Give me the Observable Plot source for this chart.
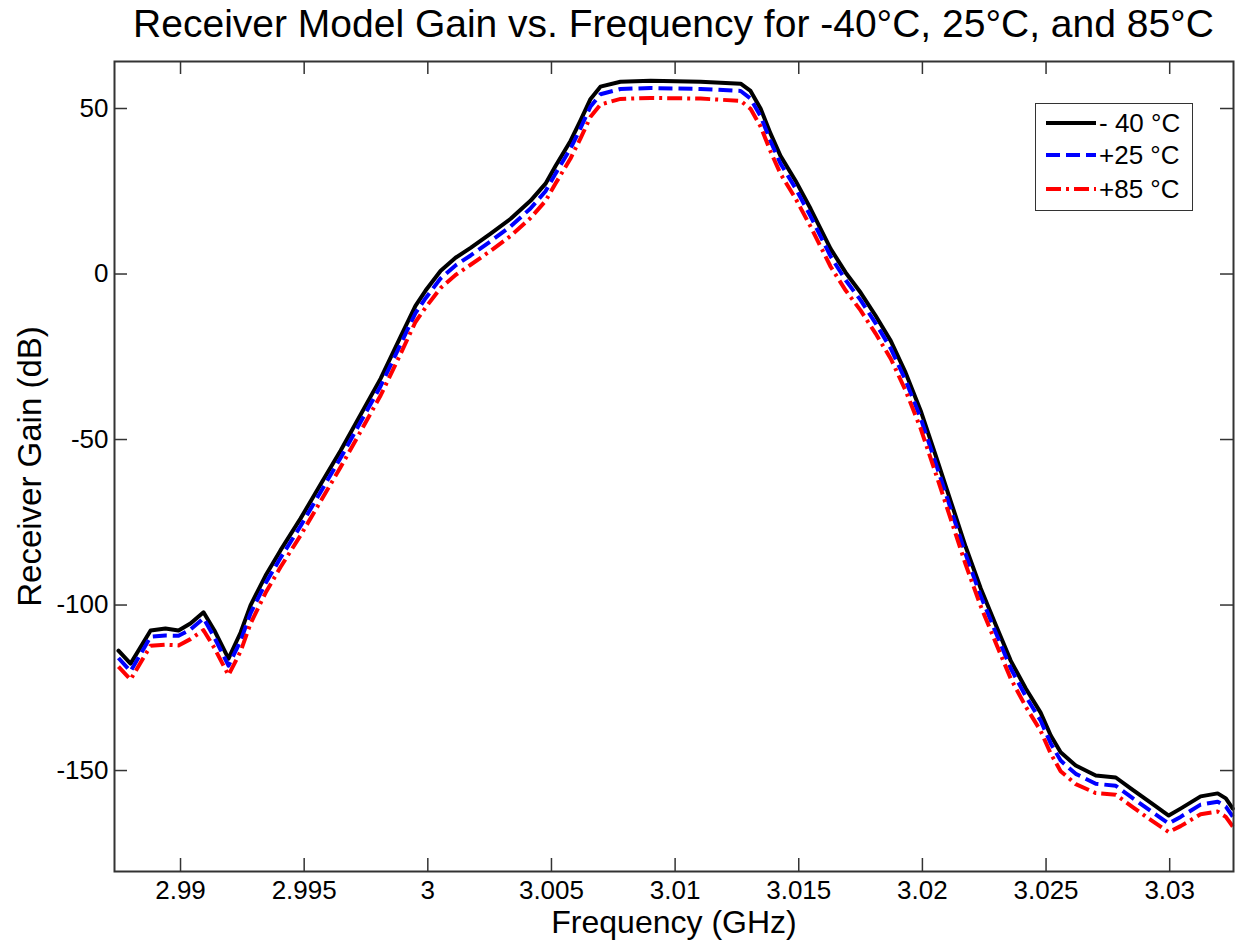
<!DOCTYPE html>
<html>
<head>
<meta charset="utf-8">
<script src="https://cdn.jsdelivr.net/npm/d3@7"></script>
<script src="https://cdn.jsdelivr.net/npm/@observablehq/plot@0.6"></script>
<style>
  html, body { margin: 0; padding: 0; background: #ffffff; }
  body { font-family: "Liberation Sans", Arial, Helvetica, sans-serif; }
  #wrap { position: relative; width: 1238px; height: 942px; overflow: hidden; }
  #title { position: absolute; left: 114px; width: 1119px; top: 4px; text-align: center;
           font-size: 39px; line-height: 39px; white-space: nowrap; color: #000; }
  #chart { position: absolute; left: 0; top: 50px; }
  #legend { position: absolute; left: 1035px; top: 103px; width: 158px; height: 108px;
            border: 1.5px solid #333; background: #fff; box-sizing: border-box; }
  .row { position: absolute; left: 0; height: 30px; display: flex; align-items: center; }
  .row svg { margin-left: 10px; }
  .row span { font-size: 26px; margin-left: 3px; color: #000; white-space: pre; }
</style>
</head>
<body>
<div id="wrap">
  <div id="title"></div>
  <div id="chart"></div>
  <div id="legend"></div>
</div>
<script>
// ---- Data ----
const titleText = "Receiver Model Gain vs. Frequency for -40°C, 25°C, and 85°C";
const xLabel = "Frequency (GHz)";
const yLabel = "Receiver Gain (dB)";

const frequencyGHz = [
  2.98749, 2.98798, 2.98879, 2.98939, 2.98992, 2.99040, 2.99093, 2.99137, 2.99194, 2.99243,
  2.99283, 2.99344, 2.99404, 2.99485, 2.99566, 2.99647, 2.99728, 2.99809, 2.99890, 2.99950,
  2.99991, 3.00052, 3.00112, 3.00173, 3.00254, 3.00335, 3.00415, 3.00476, 3.00517, 3.00577,
  3.00617, 3.00658, 3.00698, 3.00779, 3.00901, 3.01103, 3.01265, 3.01305, 3.01346, 3.01386,
  3.01426, 3.01487, 3.01548, 3.01629, 3.01690, 3.01750, 3.01811, 3.01872, 3.01932, 3.01993,
  3.02054, 3.02114, 3.02175, 3.02236, 3.02296, 3.02357, 3.02418, 3.02478, 3.02519, 3.02559,
  3.02620, 3.02701, 3.02782, 3.02842, 3.02923, 3.02996, 3.03044, 3.03125, 3.03194, 3.03227,
  3.03255
];

const gainMinus40 = [
  -113.8, -117.7, -107.7, -107.1, -107.7, -105.6, -102.2, -107.7, -116.2, -108.3,
  -100.1, -91.1, -83.5, -73.9, -63.6, -53.4, -42.5, -31.6, -18.9, -9.6,
  -5.0, 1.0, 4.9, 7.9, 12.2, 16.7, 22.1, 27.3, 32.7, 40.2,
  46.3, 52.9, 56.6, 58.1, 58.4, 58.1, 57.5, 55.3, 49.9, 42.4,
  35.7, 28.2, 19.7, 7.6, 0.4, -5.6, -12.6, -20.2, -29.8, -41.3,
  -54.9, -68.5, -82.4, -95.0, -105.9, -116.8, -125.2, -132.5, -139.4, -144.5,
  -148.5, -151.5, -152.1, -155.4, -159.7, -163.6, -161.5, -157.8, -156.9, -158.4,
  -161.5
];

const gainPlus25 = [
  -116.0, -120.0, -109.6, -109.2, -109.3, -107.4, -104.0, -109.8, -118.3, -110.8,
  -102.5, -93.4, -85.8, -76.2, -65.9, -55.6, -44.7, -33.9, -21.2, -11.8,
  -7.3, -1.3, 2.6, 5.6, 9.9, 14.4, 19.8, 25.0, 30.4, 37.9,
  44.0, 50.6, 54.3, 55.9, 56.2, 55.9, 55.3, 53.0, 47.6, 40.1,
  33.4, 25.9, 17.4, 5.3, -1.9, -7.9, -14.9, -22.5, -32.1, -43.6,
  -57.2, -70.8, -84.7, -97.3, -108.2, -119.1, -127.6, -134.9, -141.8, -147.0,
  -151.0, -154.0, -154.6, -157.9, -162.2, -166.0, -164.0, -160.3, -159.4, -160.9,
  -163.9
];

const gainPlus85 = [
  -118.6, -122.5, -112.3, -112.0, -112.2, -110.3, -107.6, -113.0, -121.2, -114.0,
  -105.6, -96.3, -88.6, -79.0, -68.7, -58.4, -47.6, -36.7, -24.1, -14.5,
  -10.1, -4.2, -0.3, 2.8, 7.0, 11.5, 16.9, 22.1, 27.4, 34.9,
  40.9, 47.5, 51.2, 52.9, 53.2, 53.0, 52.3, 49.9, 44.5, 37.0,
  30.3, 22.8, 14.3, 2.2, -5.0, -11.0, -18.0, -25.6, -35.2, -46.7,
  -60.3, -73.9, -87.8, -100.4, -111.3, -122.2, -130.7, -138.0, -144.9, -150.2,
  -154.1, -156.8, -157.3, -160.6, -164.9, -168.6, -166.8, -163.2, -162.4, -164.0,
  -166.9
];

const seriesNames = ["- 40 °C", "+25 °C", "+85 °C"];
const seriesColors = ["#000000", "#0000ff", "#ff0000"];
const seriesDashes = [null, "14,6", "15,5,3,5"];
const seriesValues = [gainMinus40, gainPlus25, gainPlus85];

const xTicks = [2.99, 2.995, 3, 3.005, 3.01, 3.015, 3.02, 3.025, 3.03];
const xTickLabels = ["2.99", "2.995", "3", "3.005", "3.01", "3.015", "3.02", "3.025", "3.03"];
const yTicks = [-150, -100, -50, 0, 50];
const yTickLabels = ["-150", "-100", "-50", "0", "50"];

const xDomain = [2.98733, 3.03258];
const yDomain = [-180.5, 64.2];

// ---- Build ----
const W = 1238, H = 892;
const mTop = 11, mBottom = 71, mLeft = 114, mRight = 5;
const innerW = W - mLeft - mRight, innerH = H - mTop - mBottom;
const tickLen = 13;

const lineMarks = seriesValues.map((vals, s) => {
  const rows = frequencyGHz.map((f, i) => ({f, g: vals[i]}));
  return Plot.line(rows, {
    x: "f", y: "g",
    stroke: seriesColors[s],
    strokeWidth: 4,
    strokeDasharray: seriesDashes[s] || undefined,
    strokeLinecap: seriesDashes[s] ? "butt" : "round",
    strokeLinejoin: "round"
  });
});

const xFmt = d => xTickLabels[xTicks.indexOf(d)];
const yFmt = d => yTickLabels[yTicks.indexOf(d)];

const plot = Plot.plot({
  width: W, height: H,
  marginTop: mTop, marginBottom: mBottom, marginLeft: mLeft, marginRight: mRight,
  style: { fontFamily: '"Liberation Sans", Arial, Helvetica, sans-serif', fontSize: "26px", color: "#000", background: "#fff" },
  x: { domain: xDomain },
  y: { domain: yDomain },
  marks: [
    ...lineMarks,
    Plot.axisX({ ticks: xTicks, tickFormat: xFmt, tickSize: 0, tickPadding: 9, label: null, fontSize: 26, fill: "#000" }),
    Plot.axisY({ ticks: yTicks, tickFormat: yFmt, tickSize: 0, tickPadding: 6, label: null, fontSize: 26, fill: "#000" }),
    Plot.tickX(xTicks, { x: d => d, stroke: "#333", strokeWidth: 1.5, insetTop: innerH - tickLen }),
    Plot.tickX(xTicks, { x: d => d, stroke: "#333", strokeWidth: 1.5, insetBottom: innerH - tickLen }),
    Plot.tickY(yTicks, { y: d => d, stroke: "#333", strokeWidth: 1.5, insetRight: innerW - tickLen }),
    Plot.tickY(yTicks, { y: d => d, stroke: "#333", strokeWidth: 1.5, insetLeft: innerW - tickLen }),
    Plot.frame({ stroke: "#333", strokeWidth: 2 }),
    Plot.text([xLabel], { text: d => d, frameAnchor: "bottom", lineAnchor: "middle", textAnchor: "middle", dy: 51, fontSize: 32, fill: "#000" }),
    Plot.text([yLabel], { text: d => d, frameAnchor: "left", lineAnchor: "middle", textAnchor: "middle", rotate: -90, dx: -84, fontSize: 33, fill: "#000" })
  ]
});
document.getElementById("chart").appendChild(plot);
document.getElementById("title").textContent = titleText;

// Legend
const legend = document.getElementById("legend");
const rowTops = [4, 36, 70];
seriesNames.forEach((name, s) => {
  const row = document.createElement("div");
  row.className = "row";
  row.style.top = rowTops[s] + "px";
  const dash = seriesDashes[s] ? `stroke-dasharray="${seriesDashes[s]}"` : "";
  row.innerHTML = `<svg width="50" height="12"><line x1="0" y1="6" x2="50" y2="6" stroke="${seriesColors[s]}" stroke-width="4" ${dash}/></svg><span>${name}</span>`;
  legend.appendChild(row);
});
</script>
</body>
</html>
